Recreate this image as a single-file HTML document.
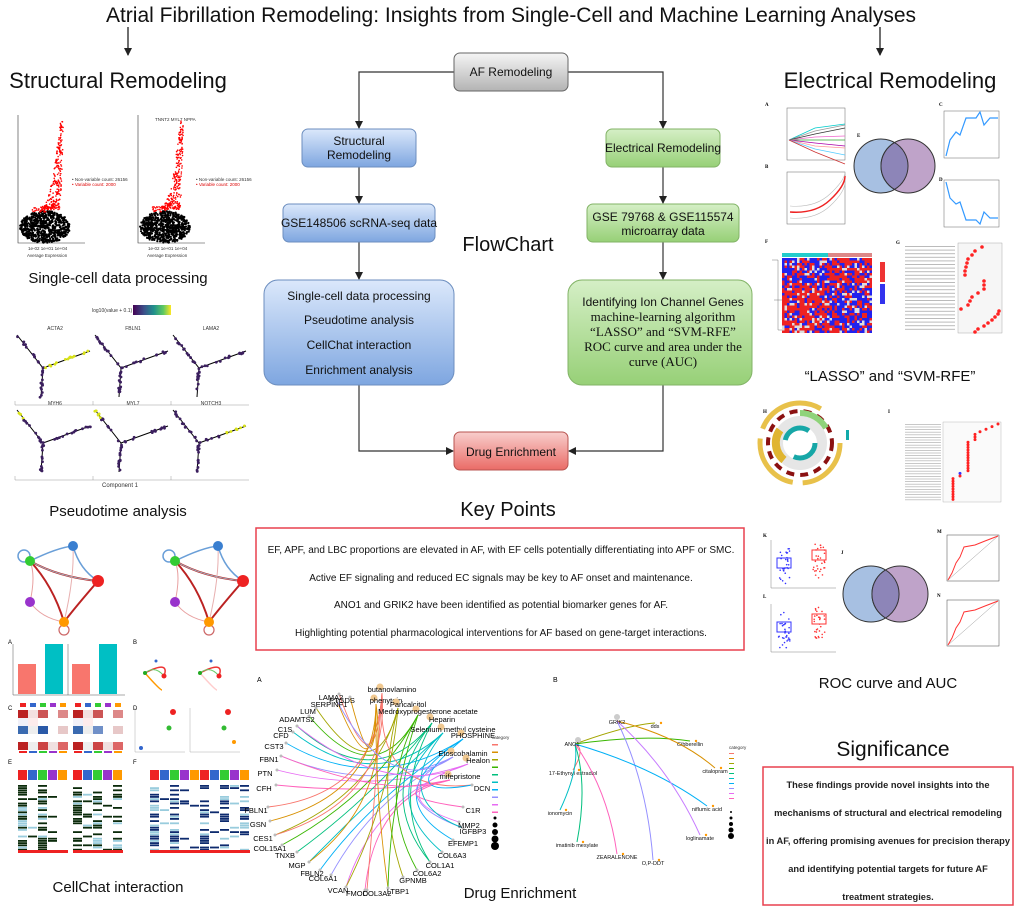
<!DOCTYPE html>
<html><head><meta charset="utf-8">
<style>
html,body{margin:0;padding:0;background:#fff;}
svg{display:block;font-family:"Liberation Sans",Arial,sans-serif;}
</style></head>
<body>
<svg id="s" width="1022" height="909" viewBox="0 0 1022 909" xmlns="http://www.w3.org/2000/svg">
<defs>
<linearGradient id="gb" x1="0" y1="0" x2="0" y2="1"><stop offset="0" stop-color="#dbe8fb"/><stop offset="1" stop-color="#7ea6e0"/></linearGradient>
<linearGradient id="gg" x1="0" y1="0" x2="0" y2="1"><stop offset="0" stop-color="#d5efc6"/><stop offset="1" stop-color="#97d077"/></linearGradient>
<linearGradient id="gy" x1="0" y1="0" x2="0" y2="1"><stop offset="0" stop-color="#f5f5f5"/><stop offset="1" stop-color="#b3b3b3"/></linearGradient>
<linearGradient id="gr" x1="0" y1="0" x2="0" y2="1"><stop offset="0" stop-color="#f8cecc"/><stop offset="1" stop-color="#ea6b66"/></linearGradient>
<linearGradient id="vir" x1="0" y1="0" x2="1" y2="0"><stop offset="0" stop-color="#440154"/><stop offset=".3" stop-color="#3b528b"/><stop offset=".55" stop-color="#21918c"/><stop offset=".8" stop-color="#5ec962"/><stop offset="1" stop-color="#fde725"/></linearGradient>
<marker id="ah" markerWidth="8" markerHeight="8" refX="7" refY="4" orient="auto" markerUnits="userSpaceOnUse"><path d="M0,0 L8,4 L0,8 z" fill="#222"/></marker>
</defs>

<text x="511" y="22" font-size="21" text-anchor="middle" fill="#111">Atrial Fibrillation Remodeling: Insights from Single-Cell and Machine Learning Analyses</text>
<line x1="128" y1="27" x2="128" y2="55" stroke="#222" stroke-width="1.3" marker-end="url(#ah)"/>
<line x1="880" y1="27" x2="880" y2="55" stroke="#222" stroke-width="1.3" marker-end="url(#ah)"/>
<text x="118" y="88" font-size="22" text-anchor="middle" fill="#111">Structural Remodeling</text>
<text x="890" y="88" font-size="22" text-anchor="middle" fill="#111">Electrical Remodeling</text>

<g stroke="#333" stroke-width="1.2" fill="none">
<polyline points="454,72 359,72 359,128" marker-end="url(#ah)"/>
<polyline points="568,72 663,72 663,128" marker-end="url(#ah)"/>
<line x1="359" y1="167" x2="359" y2="203" marker-end="url(#ah)"/>
<line x1="663" y1="167" x2="663" y2="203" marker-end="url(#ah)"/>
<line x1="359" y1="242" x2="359" y2="279" marker-end="url(#ah)"/>
<line x1="663" y1="242" x2="663" y2="279" marker-end="url(#ah)"/>
<polyline points="359,385 359,451 453,451" marker-end="url(#ah)"/>
<polyline points="663,385 663,451 569,451" marker-end="url(#ah)"/>
</g>
<g font-size="12" text-anchor="middle" fill="#111">
<rect x="454" y="53" width="114" height="38" rx="6" fill="url(#gy)" stroke="#666"/>
<text x="511" y="76">AF Remodeling</text>
<rect x="302" y="129" width="114" height="38" rx="6" fill="url(#gb)" stroke="#6c8ebf"/>
<text x="359" y="145">Structural</text><text x="359" y="159">Remodeling</text>
<rect x="606" y="129" width="114" height="38" rx="6" fill="url(#gg)" stroke="#82b366"/>
<text x="663" y="152">Electrical Remodeling</text>
<rect x="283" y="204" width="152" height="38" rx="6" fill="url(#gb)" stroke="#6c8ebf"/>
<text x="359" y="227">GSE148506 scRNA-seq data</text>
<rect x="587" y="204" width="152" height="38" rx="6" fill="url(#gg)" stroke="#82b366"/>
<text x="663" y="221">GSE 79768 &amp; GSE115574</text><text x="663" y="235">microarray data</text>
<rect x="264" y="280" width="190" height="105" rx="14" fill="url(#gb)" stroke="#6c8ebf"/>
<text x="359" y="300">Single-cell data processing</text>
<text x="359" y="324">Pseudotime analysis</text>
<text x="359" y="349">CellChat interaction</text>
<text x="359" y="374">Enrichment analysis</text>
<rect x="568" y="280" width="184" height="105" rx="14" fill="url(#gg)" stroke="#82b366"/>
<text x="663" y="306">Identifying Ion Channel Genes</text>
<g font-family="Liberation Serif,serif" font-size="13">
<text x="663" y="321">machine-learning algorithm</text>
<text x="663" y="336">“LASSO” and “SVM-RFE”</text>
<text x="663" y="351">ROC curve and area under the</text>
<text x="663" y="366">curve (AUC)</text></g>
<rect x="454" y="432" width="114" height="38" rx="6" fill="url(#gr)" stroke="#b85450"/>
<text x="511" y="456">Drug Enrichment</text>
</g>
<text x="508" y="251" font-size="20" text-anchor="middle" fill="#111">FlowChart</text>
<text x="508" y="516" font-size="20" text-anchor="middle" fill="#111">Key Points</text>

<rect x="256" y="528" width="488" height="122" fill="#fff" stroke="#e8414f" stroke-width="1.5"/>
<g font-size="10" text-anchor="middle" fill="#111">
<text x="501" y="553">EF, APF, and LBC proportions are elevated in AF, with EF cells potentially differentiating into APF or SMC.</text>
<text x="501" y="581">Active EF signaling and reduced EC signals may be key to AF onset and maintenance.</text>
<text x="501" y="608">ANO1 and GRIK2 have been identified as potential biomarker genes for AF.</text>
<text x="501" y="636">Highlighting potential pharmacological interventions for AF based on gene-target interactions.</text>
</g>

<text x="118" y="283" font-size="15" text-anchor="middle" fill="#111">Single-cell data processing</text>
<text x="118" y="516" font-size="15" text-anchor="middle" fill="#111">Pseudotime analysis</text>
<text x="118" y="892" font-size="15" text-anchor="middle" fill="#111">CellChat interaction</text>
<text x="890" y="381" font-size="15" text-anchor="middle" fill="#111">“LASSO” and “SVM-RFE”</text>
<text x="888" y="688" font-size="15" text-anchor="middle" fill="#111">ROC curve and AUC</text>
<text x="893" y="756" font-size="21" text-anchor="middle" fill="#111">Significance</text>
<text x="520" y="898" font-size="15" text-anchor="middle" fill="#111">Drug Enrichment</text>

<rect x="763" y="767" width="250" height="138" fill="#fff" stroke="#e8414f" stroke-width="1.5"/>
<g font-size="9.3" font-weight="bold" text-anchor="middle" fill="#222">
<text x="888" y="788">These findings provide novel insights into the</text>
<text x="888" y="816">mechanisms of structural and electrical remodeling</text>
<text x="888" y="844">in AF, offering promising avenues for precision therapy</text>
<text x="888" y="872">and identifying potential targets for future AF</text>
<text x="888" y="900">treatment strategies.</text>
</g>

<g stroke="#333" stroke-width=".6" fill="none">
<polyline points="18,115 18,243 85,243"/><polyline points="138,115 138,243 205,243"/>
</g>
<g font-size="4.5" fill="#333">
<text x="28" y="250">1e-02  1e+01  1e+04</text><text x="27" y="257">Average Expression</text>
<text x="148" y="250">1e-02  1e+01  1e+04</text><text x="147" y="257">Average Expression</text>
<text x="72" y="181">• Non-variable count: 26156</text><text x="72" y="186" fill="#d00">• Variable count: 2000</text>
<text x="196" y="181">• Non-variable count: 26156</text><text x="196" y="186" fill="#d00">• Variable count: 2000</text>
<text x="155" y="121">TNNT2 MYL7 NPPA</text>
</g>
<g id="scat"></g>

<text x="92" y="312" font-size="5" fill="#333">log10(value + 0.1)</text>
<rect x="133" y="305" width="38" height="10" fill="url(#vir)"/>
<g id="traj"></g>
<text x="120" y="487" font-size="6" text-anchor="middle" fill="#333">Component 1</text>

<g id="nets"></g>
<g id="misc"></g>
<g id="right"></g>
<g id="drug"></g>
</svg>
<script>
var NS="http://www.w3.org/2000/svg";
function el(p,t,a,txt){var e=document.createElementNS(NS,t);for(var k in a)e.setAttribute(k,a[k]);if(txt!==undefined)e.textContent=txt;p.appendChild(e);return e;}
var seed=7;function r(){seed=(seed*9301+49297)%233280;return seed/233280;}
var sc=document.getElementById('scat');
[20,140].forEach(function(x0){
 for(var i=0;i<900;i++){var x=x0+r()*50,y=208+r()*35; var dx=(x-x0-25)/25, dy=(y-227)/16; if(dx*dx+dy*dy>1)continue; el(sc,'circle',{cx:x,cy:y,r:1.1,fill:'#000'});}
 for(var i=0;i<260;i++){var t=r(),y=210-t*t*88-r()*3,x=x0+30+t*12+(r()-.5)*(16*(1-t)+3); el(sc,'circle',{cx:x,cy:y,r:.8,fill:'#f00'});}
 for(var i=0;i<30;i++){el(sc,'circle',{cx:x0+12+r()*14,cy:206+r()*6,r:.8,fill:'#f00'});}
});
var tj=document.getElementById('traj');
for(var row=0;row<2;row++)for(var c=0;c<3;c++){
 var x0=15+c*78,y0=335+row*75;
 el(tj,'text',{x:x0+40,y:y0-5,'font-size':5,'text-anchor':'middle',fill:'#333'},['ACTA2','FBLN1','LAMA2','MYH6','MYL7','NOTCH3'][row*3+c]);
 el(tj,'polyline',{points:(x0+2)+','+y0+' '+(x0+28)+','+(y0+33)+' '+(x0+75)+','+(y0+16),fill:'none',stroke:'#000','stroke-width':1});
 el(tj,'line',{x1:x0+28,y1:y0+33,x2:x0+26,y2:y0+62,stroke:'#000','stroke-width':1});
 el(tj,'polyline',{points:x0+','+(y0+66)+' '+x0+','+(y0+70)+' '+(x0+78)+','+(y0+70),fill:'none',stroke:'#999','stroke-width':.5});
 var segs=[[x0+2,y0,x0+28,y0+33],[x0+28,y0+33,x0+75,y0+16],[x0+28,y0+33,x0+26,y0+62]];
 segs.forEach(function(s,si){for(var i=0;i<14;i++){var t=r();var hi=(row*3+c==0&&si==1)||(row==1&&c<2&&si==0&&t<.25)||(row*3+c==5&&si==1&&t>.5);el(tj,'circle',{cx:s[0]+(s[2]-s[0])*t+(r()-.5)*2,cy:s[1]+(s[3]-s[1])*t+(r()-.5)*2,r:1.4,fill:hi?'#d8e219':'#3b1f5e'});}});
}
var nt=document.getElementById('nets');
[[0,0],[145,0]].forEach(function(o){
 var ox=o[0];var P={g:[ox+30,561],b:[ox+73,546],r:[ox+98,581],o:[ox+64,622],p:[ox+30,602]};
 var E=[['g','r','#b22',2],['g','o','#b22',2],['r','o','#b22',2],['g','b','#6a9fd8',1.5],['b','r','#6a9fd8',1.5],['g','p','#e8a0a0',1],['p','o','#e8a0a0',1],['b','o','#e8b0b0',1],['g','r','#9bc',1]];
 E.forEach(function(e,i){var a=P[e[0]],b=P[e[1]];var mx=(a[0]+b[0])/2+(i%2?6:-6),my=(a[1]+b[1])/2+(i%2?-6:6);el(nt,'path',{d:'M'+a[0]+','+a[1]+' Q'+mx+','+my+' '+b[0]+','+b[1],fill:'none',stroke:e[2],'stroke-width':e[3]});});
 el(nt,'circle',{cx:ox+24,cy:556,r:6,fill:'none',stroke:'#6a9fd8','stroke-width':1.5});
 el(nt,'circle',{cx:ox+64,cy:630,r:5,fill:'none',stroke:'#c66','stroke-width':1.2});
 [['g','#3c3'],['b','#3a7fd0'],['r','#e22'],['o','#f90'],['p','#93c']].forEach(function(n){el(nt,'circle',{cx:P[n[0]][0],cy:P[n[0]][1],r:n[0]=='r'?6:5,fill:n[1]});});
});
var m=document.getElementById('misc');
el(m,'text',{x:8,y:644,'font-size':6,fill:'#000'},'A');el(m,'text',{x:133,y:644,'font-size':6,fill:'#000'},'B');
el(m,'text',{x:8,y:710,'font-size':6,fill:'#000'},'C');el(m,'text',{x:133,y:710,'font-size':6,fill:'#000'},'D');
el(m,'text',{x:8,y:764,'font-size':6,fill:'#000'},'E');el(m,'text',{x:133,y:764,'font-size':6,fill:'#000'},'F');
[[18,'#f8766d',664,30],[45,'#00bfc4',644,50],[72,'#f8766d',664,30],[99,'#00bfc4',644,50]].forEach(function(b){el(m,'rect',{x:b[0],y:b[2],width:18,height:b[3],fill:b[1]});});
el(m,'polyline',{points:'13,644 13,695 68,695',fill:'none',stroke:'#555','stroke-width':.5});
el(m,'polyline',{points:'68,644 68,695 125,695',fill:'none',stroke:'#555','stroke-width':.5});
[[140,'#3c3'],[195,'#3c3']].forEach(function(o,i){var x=o[0];el(m,'path',{d:'M'+(x+5)+',673 Q'+(x+30)+',660 '+(x+24)+',676',fill:'none',stroke:'#e33','stroke-width':1.5});el(m,'path',{d:'M'+(x+5)+',673 Q'+(x+20)+',690 '+(x+22)+',690',fill:'none',stroke:i?'#fcc':'#f90','stroke-width':1.5});el(m,'path',{d:'M'+(x+5)+',673 Q'+(x+15)+',665 '+(x+24)+',676',fill:'none',stroke:'#6c6','stroke-width':1});el(m,'circle',{cx:x+5,cy:673,r:2,fill:'#2a2'});el(m,'circle',{cx:x+24,cy:676,r:2.5,fill:'#e22'});el(m,'circle',{cx:x+16,cy:661,r:1.5,fill:'#36c'});});
var hc=[['#b22','#f3e0e0','#c55','#fff','#d88'],['#f0f0f8','#fdecec','#fff','#fff','#fff'],['#3a6ab0','#eee','#2a5aa8','#fff','#e7c8c8'],['#fff','#fff','#fff','#fff','#fff'],['#b22','#eee','#c44','#f0e0e0','#d66']];
[18,73].forEach(function(x0,k){for(var i=0;i<5;i++)for(var j=0;j<5;j++){var c=hc[i][j];if(k==1&&i==2&&j==2)c='#7090c8';el(m,'rect',{x:x0+j*10,y:710+i*8,width:10,height:8,fill:c});}
 ['#e22','#36c','#3c3','#93c','#f90'].forEach(function(c,j){el(m,'rect',{x:x0+j*10+2,y:703,width:6,height:4,fill:c});el(m,'rect',{x:x0+j*10+1,y:751,width:8,height:2,fill:c});});});
[[135,'#e22',670,-1],[190,'#e22',670,1]].forEach(function(o){var x=o[0];el(m,'polyline',{points:x+',708 '+x+',752 '+(x+50)+',752',fill:'none',stroke:'#999','stroke-width':.4});el(m,'circle',{cx:x+38,cy:712,r:3,fill:'#e22'});el(m,'circle',{cx:x+34,cy:728,r:2.5,fill:'#3b3'});el(m,'circle',{cx:x+(o[3]>0?44:6),cy:(o[3]>0?742:748),r:2,fill:o[3]>0?'#f90':'#36c'});});
function hm(x0,colr,cols){for(var j=0;j<cols.length;j++){el(m,'rect',{x:x0+j*10,y:770,width:9,height:10,fill:['#e22','#36c','#3c3','#93c','#f90'][j]});for(var i=0;i<30;i++){if(r()<cols[j]){el(m,'rect',{x:x0+j*10,y:785+i*2.2,width:9,height:1.8,fill:r()<.7?colr:'#9cd'});}}}el(m,'rect',{x:x0,y:850,width:50,height:3,fill:'#e22'});}
hm(18,'#0a2a0a',[.7,.05,.75,.08,.02]);hm(73,'#0a2a0a',[.6,.2,.55,.15,.6]);hm(150,'#0d2a6e',[.7,.08,.7,.05,.05]);hm(200,'#0d2a6e',[.6,.2,.6,.15,.5]);
var R=document.getElementById('right');
function lab(x,y,t){el(R,'text',{x:x,y:y,'font-size':5,'font-family':'Liberation Serif,serif','font-weight':'bold',fill:'#000'},t);}
lab(765,106,'A');lab(765,168,'B');lab(857,137,'E');lab(939,106,'C');lab(939,181,'D');lab(765,243,'F');lab(896,244,'G');lab(763,413,'H');lab(888,413,'I');lab(763,537,'K');lab(763,598,'L');lab(841,554,'J');lab(937,533,'M');lab(937,597,'N');
el(R,'rect',{x:787,y:108,width:58,height:52,fill:'none',stroke:'#666','stroke-width':.5});
['#0cc','#999','#333','#e6c','#3a3','#a0a','#f99','#5cf','#c33'].forEach(function(c,i){el(R,'path',{d:'M789,140 L815,'+(140+(i-4)*3)+' L845,'+(140+(i-4)*(4+i%3)),fill:'none',stroke:c,'stroke-width':.8});});
el(R,'rect',{x:787,y:172,width:58,height:52,fill:'none',stroke:'#666','stroke-width':.5});
el(R,'path',{d:'M790,212 Q815,214 830,200 T845,176',fill:'none',stroke:'#e22','stroke-width':1.5});
el(R,'path',{d:'M790,206 Q815,208 830,194 T845,172 M790,218 Q815,220 830,206 T845,182',fill:'none',stroke:'#bbb','stroke-width':.6});
el(R,'circle',{cx:881,cy:166,r:27,fill:'#a7c0e2',stroke:'#333','stroke-width':1});
el(R,'circle',{cx:908,cy:166,r:27,fill:'#bfa3c9',stroke:'#333','stroke-width':1});
el(R,'path',{d:'M894.5,142.6 A27,27 0 0 1 894.5,189.4 A27,27 0 0 1 894.5,142.6 Z',fill:'#8d85b8',stroke:'#333','stroke-width':1});
el(R,'rect',{x:944,y:111,width:55,height:47,fill:'none',stroke:'#666','stroke-width':.5});
el(R,'polyline',{points:'946,156 950,140 956,132 960,135 966,118 976,118 980,112 984,125 990,118 998,118',fill:'none',stroke:'#39f','stroke-width':1.2});
el(R,'rect',{x:944,y:180,width:55,height:47,fill:'none',stroke:'#666','stroke-width':.5});
el(R,'polyline',{points:'946,182 950,198 956,204 960,202 966,220 976,220 980,224 984,212 990,218 998,218',fill:'none',stroke:'#39f','stroke-width':1.2});
el(R,'rect',{x:782,y:253,width:46,height:4,fill:'#2cc'});el(R,'rect',{x:828,y:253,width:44,height:4,fill:'#d88'});
for(var i=0;i<30;i++)for(var j=0;j<36;j++){var v=r();var red=(j<18)?(i<10?.3:.6):(i<10?.6:.35);el(R,'rect',{x:782+j*2.5,y:258+i*2.5,width:2.5,height:2.5,fill:v<red?'#e22':(v<red+.15?'#ddd':'#22e')});}
el(R,'path',{d:'M772,260 h6 v40 h4 M774,300 h4 v30 h4',fill:'none',stroke:'#555','stroke-width':.4});
el(R,'rect',{x:880,y:262,width:5,height:20,fill:'#e33'});el(R,'rect',{x:880,y:284,width:5,height:20,fill:'#33e'});
el(R,'rect',{x:958,y:243,width:44,height:90,fill:'#f6f6f6',stroke:'#999','stroke-width':.4});
[[982,247],[975,251],[972,255],[968,259],[967,263],[966,267],[965,271],[965,275],[984,281],[984,285],[984,289],[978,293],[972,297],[970,301],[968,305],[961,309],[999,311],[998,314],[995,317],[992,320],[988,323],[984,326],[978,329],[975,332]].forEach(function(p){el(R,'circle',{cx:p[0],cy:p[1],r:1.8,fill:'#f22'});});
for(var i=0;i<24;i++)el(R,'rect',{x:905,y:246+i*3.6,width:50,height:1,fill:'#bbb'});
el(R,'circle',{cx:800,cy:443,r:40,fill:'none',stroke:'#e8c14a','stroke-width':5,'stroke-dasharray':'60 10 60 10 70 41'});
el(R,'circle',{cx:800,cy:443,r:32,fill:'none',stroke:'#8b1111','stroke-width':4,'stroke-dasharray':'8 6'});
el(R,'circle',{cx:800,cy:443,r:22,fill:'none',stroke:'#e6e6e6','stroke-width':10});
el(R,'circle',{cx:800,cy:443,r:15,fill:'none',stroke:'#17a7a7','stroke-width':5,'stroke-dasharray':'30 20'});
el(R,'path',{d:'M800,413 A30,30 0 0 1 826,428',fill:'none',stroke:'#8fd37a','stroke-width':6});
el(R,'path',{d:'M784,460 A22,22 0 0 1 780,430',fill:'none',stroke:'#e0b530','stroke-width':8});
el(R,'rect',{x:846,y:430,width:3,height:10,fill:'#1aa'});
el(R,'rect',{x:943,y:422,width:58,height:80,fill:'#fafafa',stroke:'#aaa','stroke-width':.4});
for(var i=0;i<30;i++){var x=i<4?998-i*6:(i<7?975:(i<19?968:(i<21?960:953)));el(R,'circle',{cx:x,cy:424+i*2.6,r:1.5,fill:i==19?'#33f':'#f22'});el(R,'rect',{x:905,y:424+i*2.6,width:36,height:.8,fill:'#bbb'});}
[[540,'#33f','#f33'],[604,'#33f','#f33']].forEach(function(o){var y=o[0];el(R,'polyline',{points:'771,'+y+' 771,'+(y+48)+' 836,'+(y+48),fill:'none',stroke:'#666','stroke-width':.4});el(R,'rect',{x:777,y:y+18,width:14,height:10,fill:'none',stroke:o[1]});el(R,'rect',{x:812,y:y+10,width:14,height:10,fill:'none',stroke:o[2]});for(var i=0;i<30;i++){el(R,'circle',{cx:778+r()*12,cy:y+8+r()*36,r:.8,fill:o[1]});el(R,'circle',{cx:813+r()*12,cy:y+3+r()*36,r:.8,fill:o[2]});}});
el(R,'circle',{cx:871,cy:594,r:28,fill:'#a7c0e2',stroke:'#333','stroke-width':1});
el(R,'circle',{cx:900,cy:594,r:28,fill:'#bfa3c9',stroke:'#333','stroke-width':1});
el(R,'path',{d:'M885.5,570 A28,28 0 0 1 885.5,618 A28,28 0 0 1 885.5,570 Z',fill:'#8d85b8',stroke:'#333','stroke-width':1});
[[535],[600]].forEach(function(o){var y=o[0];el(R,'rect',{x:947,y:y,width:52,height:46,fill:'none',stroke:'#444','stroke-width':.5});el(R,'line',{x1:948,y1:y+45,x2:998,y2:y+1,stroke:'#999','stroke-width':.5});el(R,'polyline',{points:'948,'+(y+45)+' 952,'+(y+38)+' 956,'+(y+28)+' 960,'+(y+22)+' 964,'+(y+12)+' 975,'+(y+10)+' 985,'+(y+6)+' 998,'+(y+1),fill:'none',stroke:'#f33','stroke-width':1});});
var D=document.getElementById('drug');
el(D,'text',{x:257,y:682,'font-size':7,fill:'#000'},'A');el(D,'text',{x:553,y:682,'font-size':7,fill:'#000'},'B');
var G=[['LAMA2',331,697],['SERPINF1',329,704],['LUM',308,711],['ADAMTS2',297,719],['C1S',285,729],['CFD',281,735],['CST3',274,746],['FBN1',269,759],['PTN',265,773],['CFH',264,788],['FBLN1',256,810],['GSN',258,824],['CES1',263,838],['COL15A1',270,848],['TNXB',285,855],['MGP',297,865],['FBLN2',312,873],['COL6A1',323,878],['VCAN',338,890],['FMOD',357,893],['COL3A2',377,893],['LTBP1',398,891],['GPNMB',413,880],['COL6A2',427,873],['COL1A1',440,865],['COL6A3',452,855],['EFEMP1',463,843],['IGFBP3',473,831],['MMP2',469,825],['C1R',473,810],['DCN',482,788],['PTGDS',342,700]];
var drugs=[[392,689,'butanovlamino'],[386,700,'phenytoin'],[408,704,'Paricalcitol'],[428,711,'Medroxyprogesterone acetate'],[442,719,'Heparin'],[453,729,'Selenium methyl cysteine'],[473,735,'PHOSPHINE'],[463,753,'Etoscobalamin'],[478,760,'Healon'],[460,776,'mifepristone']];
var dc=['#f8766d','#d89000','#a3a500','#39b600','#00bf7d','#00bfc4','#00b0f6','#9590ff','#e76bf3','#ff62bc'];
function anc(g){return g[1]<370?[g[1]+(g[1]<300?12:8),g[2]-3]:[g[1]-10,g[2]-3];}
G.forEach(function(g,i){var a=anc(g);var d=drugs[i%10];el(D,'path',{d:'M'+a[0]+','+a[1]+' Q375,795 '+(d[0]-10)+','+(d[1]+4),fill:'none',stroke:dc[i%10],'stroke-width':.9});});
drugs.forEach(function(d,i){var g=G[(i*3+12)%32];var a=anc(g);el(D,'path',{d:'M'+(d[0]-10)+','+(d[1]+4)+' Q390,800 '+a[0]+','+a[1],fill:'none',stroke:dc[i],'stroke-width':.9});});
G.forEach(function(g){var a=anc(g);el(D,'circle',{cx:a[0],cy:a[1],r:1.5,fill:'#bbb'});el(D,'text',{x:g[1],y:g[2]+3,'font-size':7.5,'text-anchor':'middle',fill:'#000'},g[0]);});
drugs.forEach(function(d){el(D,'circle',{cx:d[0]-12,cy:d[1]-2,r:3.5,fill:'#f0c890'});el(D,'text',{x:d[0],y:d[1]+3,'font-size':7.5,'text-anchor':'middle',fill:'#000'},d[2]);});
dc.forEach(function(c,i){el(D,'rect',{x:492,y:744+i*7.5,width:6,height:1.5,fill:c});});
el(D,'text',{x:492,y:739,'font-size':4.5,fill:'#333'},'category');
[1.5,2.5,3,3.5,4].forEach(function(s,i){el(D,'circle',{cx:495,cy:818+i*7,r:s,fill:'#000'});});
var A1=[575,744],G2=[617,721];
var bt=[[573,773,'17-Ethynyl estradiol','#f8766d',A1],[655,726,'dds','#a3a500',A1],[690,744,'Gibberellin','#39b600',A1],[715,771,'citalopram','#d89000',G2],[560,813,'ionomycin','#00bfc4',A1],[577,845,'imatinib mesylate','#00bf7d',A1],[617,857,'ZEARALENONE','#ff62bc',A1],[653,863,'O,P-DDT','#9590ff',G2],[707,809,'niflumic acid','#00b0f6',A1],[700,838,'loglinamate','#c77cff',G2]];
bt.forEach(function(b){el(D,'path',{d:'M'+b[4][0]+','+b[4][1]+' Q'+((b[4][0]+b[0])/2+12)+','+((b[4][1]+b[1])/2-10)+' '+b[0]+','+(b[1]-3),fill:'none',stroke:b[3],'stroke-width':1});el(D,'circle',{cx:b[0]+6,cy:b[1]-3,r:1.2,fill:'#f90'});el(D,'text',{x:b[0],y:b[1]+2,'font-size':5.5,fill:'#111','text-anchor':'middle'},b[2]);});
el(D,'circle',{cx:A1[0]+3,cy:A1[1]-4,r:3,fill:'#ccc'});el(D,'circle',{cx:G2[0],cy:G2[1]-4,r:3,fill:'#ccc'});
el(D,'text',{x:572,y:746,'font-size':5.5,'text-anchor':'middle',fill:'#111'},'ANO1');el(D,'text',{x:617,y:724,'font-size':5.5,'text-anchor':'middle',fill:'#111'},'GRIK2');
el(D,'text',{x:729,y:749,'font-size':4.5,fill:'#333'},'category');
for(var i=0;i<10;i++)el(D,'rect',{x:729,y:753+i*5,width:5,height:1,fill:dc[i]});
[1,1.5,2,2.5,3].forEach(function(s,i){el(D,'circle',{cx:731,cy:812+i*6,r:s,fill:'#000'});});
</script>
</body></html>
